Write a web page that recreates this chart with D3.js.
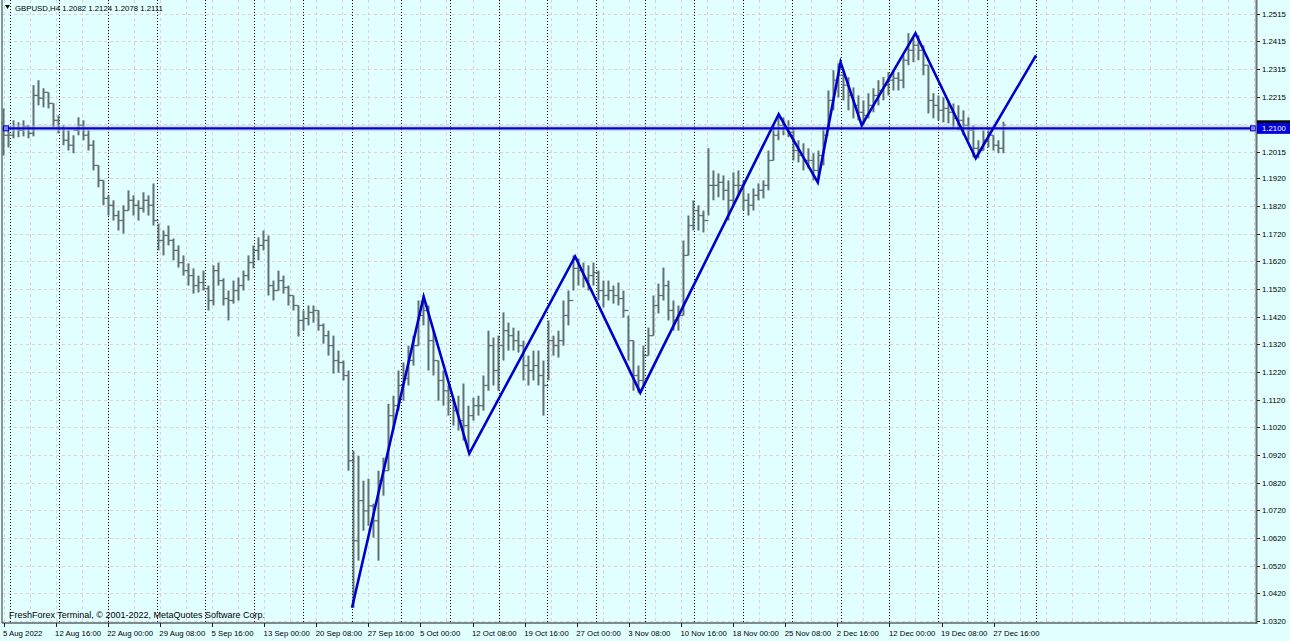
<!DOCTYPE html>
<html><head><meta charset="utf-8">
<script src="https://cdn.jsdelivr.net/npm/d3@7"></script>
<style>
html,body{margin:0;padding:0;background:#e1ffff;}
svg{display:block;}
text{font-family:"Liberation Sans",Arial,sans-serif;}
</style></head>
<body>
<script>
// ---- DATA ----
const symbolTitle = "GBPUSD,H4";
const lastBarOHLC = [1.2082, 1.2124, 1.2078, 1.2111];
const footerText = "FreshForex Terminal, © 2001-2022, MetaQuotes Software Corp.";
const firstOpen = 1.2120;
const highs = [1.2172,1.2104,1.2129,1.2122,1.2129,1.2111,1.2256,1.2274,1.2245,1.2230,1.2190,1.2147,1.2111,1.2093,1.2075,1.2140,1.2129,1.2093,1.2057,1.1966,
1.1912,1.1858,1.1840,1.1803,1.1822,1.1876,1.1858,1.1840,1.1869,1.1858,1.1901,1.1756,1.1731,1.1749,1.1702,1.1677,1.1641,1.1612,1.1594,1.1568,
1.1586,1.1532,1.1605,1.1615,1.1558,1.1514,1.1550,1.1561,1.1586,1.1641,1.1677,1.1706,1.1731,1.1713,1.1550,1.1586,1.1568,1.1532,1.1496,1.1460,
1.1442,1.1460,1.1460,1.1442,1.1395,1.1369,1.1351,1.1297,1.1261,1.1225,1.0935,1.0917,1.0827,1.0834,1.0744,1.0863,1.0910,1.1105,1.1134,1.1225,
1.1254,1.1315,1.1351,1.1478,1.1496,1.1460,1.1369,1.1261,1.1225,1.1171,1.1127,1.1134,1.1178,1.1098,1.1127,1.1134,1.1207,1.1369,1.1344,1.1351,
1.1435,1.1398,1.1380,1.1369,1.1333,1.1279,1.1297,1.1297,1.1261,1.1406,1.1351,1.1369,1.1478,1.1514,1.1641,1.1630,1.1615,1.1605,1.1615,1.1586,
1.1550,1.1550,1.1532,1.1543,1.1514,1.1424,1.1333,1.1243,1.1315,1.1380,1.1496,1.1539,1.1597,1.1550,1.1478,1.1460,1.1695,1.1785,1.1840,1.1822,
1.1803,1.2028,1.1948,1.1937,1.1930,1.1912,1.1941,1.1948,1.1912,1.1865,1.1883,1.1901,1.1912,1.2020,1.2111,1.2151,1.2140,1.2129,1.2100,1.2057,
1.2046,1.2028,1.2010,1.2020,1.2104,1.2237,1.2310,1.2335,1.2310,1.2285,1.2248,1.2219,1.2201,1.2227,1.2245,1.2274,1.2285,1.2303,1.2310,1.2303,
1.2364,1.2444,1.2426,1.2436,1.2400,1.2328,1.2227,1.2219,1.2212,1.2201,1.2190,1.2183,1.2165,1.2140,1.2111,1.2057,1.2093,1.2104,1.2075,1.2057,
1.2124];
const lows = [1.2002,1.2031,1.2064,1.2068,1.2071,1.2064,1.2071,1.2183,1.2176,1.2172,1.2104,1.2082,1.2039,1.2020,1.2010,1.2075,1.2057,1.2020,1.1948,1.1887,
1.1822,1.1785,1.1767,1.1731,1.1720,1.1803,1.1785,1.1767,1.1796,1.1785,1.1749,1.1659,1.1641,1.1677,1.1623,1.1597,1.1568,1.1532,1.1503,1.1507,
1.1514,1.1442,1.1460,1.1532,1.1460,1.1406,1.1467,1.1478,1.1514,1.1550,1.1594,1.1623,1.1659,1.1496,1.1478,1.1514,1.1503,1.1460,1.1442,1.1348,
1.1369,1.1388,1.1398,1.1369,1.1322,1.1279,1.1214,1.1217,1.1189,1.0863,1.0368,1.0538,1.0646,1.0664,1.0621,1.0538,1.0773,1.0863,1.1008,1.1080,
1.1116,1.1171,1.1243,1.1315,1.1388,1.1225,1.1207,1.1116,1.1098,1.1062,1.1026,1.1008,1.0972,1.0946,1.1044,1.1062,1.1080,1.1152,1.1171,1.1152,
1.1261,1.1297,1.1297,1.1290,1.1189,1.1171,1.1189,1.1171,1.1062,1.1189,1.1279,1.1272,1.1315,1.1388,1.1514,1.1532,1.1525,1.1514,1.1532,1.1478,
1.1453,1.1478,1.1467,1.1460,1.1416,1.1261,1.1152,1.1145,1.1171,1.1279,1.1351,1.1431,1.1478,1.1406,1.1369,1.1369,1.1424,1.1641,1.1731,1.1731,
1.1724,1.1785,1.1840,1.1851,1.1840,1.1767,1.1822,1.1858,1.1803,1.1785,1.1803,1.1840,1.1847,1.1876,1.1984,1.2057,1.2075,1.2068,1.1984,1.1977,
1.1948,1.1955,1.1912,1.1919,1.1966,1.2093,1.2165,1.2212,1.2201,1.2165,1.2136,1.2129,1.2111,1.2136,1.2158,1.2183,1.2201,1.2219,1.2237,1.2237,
1.2245,1.2328,1.2339,1.2346,1.2292,1.2154,1.2136,1.2129,1.2122,1.2118,1.2100,1.2093,1.2075,1.2057,1.1995,1.1992,1.2020,1.2031,1.2020,1.2010,
1.2010];
const closes = [1.2075,1.2075,1.2100,1.2093,1.2107,1.2082,1.2219,1.2209,1.2230,1.2190,1.2129,1.2100,1.2057,1.2039,1.2093,1.2111,1.2075,1.2039,1.1966,1.1912,
1.1847,1.1822,1.1785,1.1767,1.1803,1.1840,1.1822,1.1811,1.1840,1.1822,1.1767,1.1695,1.1713,1.1695,1.1659,1.1615,1.1586,1.1568,1.1532,1.1543,
1.1521,1.1478,1.1586,1.1550,1.1485,1.1478,1.1514,1.1532,1.1568,1.1615,1.1659,1.1677,1.1695,1.1532,1.1514,1.1550,1.1525,1.1496,1.1460,1.1406,
1.1413,1.1435,1.1442,1.1388,1.1351,1.1315,1.1261,1.1254,1.1207,1.0899,1.0610,1.0755,1.0718,1.0736,1.0682,1.0827,1.0863,1.1062,1.1098,1.1171,
1.1196,1.1261,1.1315,1.1424,1.1442,1.1333,1.1261,1.1189,1.1152,1.1116,1.1080,1.1044,1.1026,1.1062,1.1098,1.1098,1.1171,1.1315,1.1225,1.1315,
1.1369,1.1351,1.1333,1.1315,1.1243,1.1225,1.1243,1.1207,1.1171,1.1333,1.1315,1.1333,1.1424,1.1478,1.1594,1.1586,1.1558,1.1568,1.1579,1.1514,
1.1496,1.1514,1.1496,1.1485,1.1442,1.1333,1.1207,1.1189,1.1279,1.1351,1.1460,1.1496,1.1532,1.1442,1.1406,1.1424,1.1641,1.1749,1.1803,1.1785,
1.1767,1.1894,1.1894,1.1905,1.1876,1.1840,1.1894,1.1894,1.1840,1.1822,1.1858,1.1876,1.1894,1.1984,1.2075,1.2111,1.2100,1.2086,1.2020,1.2002,
1.1984,1.1984,1.1948,1.2002,1.2075,1.2201,1.2274,1.2292,1.2256,1.2219,1.2183,1.2158,1.2147,1.2183,1.2219,1.2237,1.2256,1.2274,1.2281,1.2274,
1.2346,1.2382,1.2400,1.2382,1.2328,1.2201,1.2183,1.2165,1.2172,1.2158,1.2136,1.2129,1.2111,1.2093,1.2028,1.2020,1.2057,1.2075,1.2039,1.2028,
1.2111];
// bar index (H4 bars from first tick) of the last data sample
const lastSampleBar = 614;
// zigzag vertices: H4 bar index and price
const zzBars   = [214, 258, 286, 351, 391, 476, 500, 514, 527, 560, 597, 634];
const zzPrices = [1.0368, 1.1492, 1.0925, 1.1637, 1.1145, 1.2151, 1.1905, 1.2339, 1.2111, 1.2444, 1.1992, 1.2364];
const hLinePrice = 1.2100;
const bidPrice = 1.2111;
// axis labels
const timeLabels = ["5 Aug 2022","12 Aug 16:00","22 Aug 00:00","29 Aug 08:00","5 Sep 16:00","13 Sep 00:00","20 Sep 08:00","27 Sep 16:00","5 Oct 00:00","12 Oct 08:00","19 Oct 16:00","27 Oct 00:00","3 Nov 08:00","10 Nov 16:00","18 Nov 00:00","25 Nov 08:00","2 Dec 16:00","12 Dec 00:00","19 Dec 08:00","27 Dec 16:00"];
const barsPerLabel = 32;
const barsPerWeek = 30;
const firstSeparatorBar = 4;
const separatorCount = 22;
const priceTicks = [1.2515,1.2415,1.2315,1.2215,1.2115,1.2015,1.1920,1.1820,1.1720,1.1620,1.1520,1.1420,1.1320,1.1220,1.1120,1.1020,1.0920,1.0820,1.0720,1.0620,1.0520,1.0420,1.0320];
// labels shown on the price scale (the 1.2115 label is hidden under the line label)
const priceTickLabels = ["1.2515","1.2415","1.2315","1.2215","","1.2015","1.1920","1.1820","1.1720","1.1620","1.1520","1.1420","1.1320","1.1220","1.1120","1.1020","1.0920","1.0820","1.0720","1.0620","1.0520","1.0420","1.0320"];

// ---- LAYOUT ----
const W = 1290, H = 641;
const plotL = 2, plotR = 1256, plotB = 623, plotT = 0;
const svg = d3.select("body").append("svg").attr("width", W).attr("height", H);
svg.append("rect").attr("width", W).attr("height", H).attr("fill", "#e1ffff");

const x = d3.scaleLinear().domain([0, 634]).range([3.5, 1036]);
const y = d3.scaleLinear().domain([1.0320, 1.2515]).range([621, 13.5]);
const maxBar = x.invert(plotR);

const g = svg.append("g");
// grid
const gridColor = "#ddd0d6";
g.selectAll("line.hg").data(priceTicks).join("line")
  .attr("x1", plotL).attr("x2", plotR)
  .attr("y1", d => Math.round(y(d)) + 0.5).attr("y2", d => Math.round(y(d)) + 0.5)
  .attr("stroke", gridColor).attr("stroke-dasharray", "3,3");
g.selectAll("line.vg").data(d3.range(0, maxBar, barsPerLabel / 2)).join("line")
  .attr("x1", d => Math.round(x(d)) + 0.5).attr("x2", d => Math.round(x(d)) + 0.5)
  .attr("y1", plotT).attr("y2", plotB)
  .attr("stroke", gridColor).attr("stroke-dasharray", "3,3");
// period separators
g.selectAll("line.sep").data(d3.range(separatorCount).map(k => firstSeparatorBar + k * barsPerWeek)).join("line")
  .attr("x1", d => Math.round(x(d)) + 0.5).attr("x2", d => Math.round(x(d)) + 0.5)
  .attr("y1", plotT).attr("y2", plotB)
  .attr("stroke", "#000").attr("stroke-width", 1).attr("stroke-dasharray", "1,2");

// OHLC bars
const n = highs.length;
const bars = d3.range(n).map(i => ({
  b: i * lastSampleBar / (n - 1),
  o: i === 0 ? firstOpen : closes[i - 1],
  h: highs[i], l: lows[i], c: closes[i]
}));
const barColor = "#627070";
const bg = g.append("g").attr("stroke", barColor).attr("stroke-width", 2);
bg.selectAll("line.hl").data(bars).join("line")
  .attr("x1", d => x(d.b)).attr("x2", d => x(d.b))
  .attr("y1", d => y(d.h)).attr("y2", d => y(d.l));
bg.selectAll("line.op").data(bars).join("line")
  .attr("x1", d => x(d.b) - 2.5).attr("x2", d => x(d.b))
  .attr("y1", d => y(d.o)).attr("y2", d => y(d.o)).attr("stroke-width", 1.3);
bg.selectAll("line.cl").data(bars).join("line")
  .attr("x1", d => x(d.b)).attr("x2", d => x(d.b) + 2.5)
  .attr("y1", d => y(d.c)).attr("y2", d => y(d.c)).attr("stroke-width", 1.3);

// horizontal line
const hy = y(hLinePrice);
g.append("line").attr("x1", plotL).attr("x2", plotR).attr("y1", hy).attr("y2", hy)
  .attr("stroke", "#b8b8ee").attr("stroke-width", 6).attr("opacity", 0.45);
g.append("line").attr("x1", plotL).attr("x2", plotR).attr("y1", hy).attr("y2", hy)
  .attr("stroke", "#0000cc").attr("stroke-width", 2.2);
[plotL + 4, plotR - 3].forEach(cx => {
  g.append("rect").attr("x", cx - 2.5).attr("y", hy - 2.5).attr("width", 5).attr("height", 5)
    .attr("fill", "#8080ff").attr("stroke", "#0000cc").attr("stroke-width", 1);
});

// zigzag
const zz = zzBars.map((b, i) => [x(b), y(zzPrices[i])]);
g.append("path").attr("d", d3.line()(zz)).attr("fill", "none")
  .attr("stroke", "#0000cd").attr("stroke-width", 2.6).attr("stroke-linejoin", "miter");

// frame
svg.append("line").attr("x1", plotL).attr("x2", plotL).attr("y1", 0).attr("y2", plotB).attr("stroke", "#6b7575").attr("stroke-width", 1.5);
svg.append("line").attr("x1", plotR + 0.5).attr("x2", plotR + 0.5).attr("y1", 0).attr("y2", plotB + 1).attr("stroke", "#6b7575").attr("stroke-width", 2);
svg.append("line").attr("x1", plotL).attr("x2", plotR + 1).attr("y1", plotB).attr("y2", plotB).attr("stroke", "#5a6464").attr("stroke-width", 1.5);

// right axis
const fs = "7.8px";
svg.selectAll("line.rt").data(priceTicks).join("line")
  .attr("x1", plotR + 1).attr("x2", plotR + 4)
  .attr("y1", d => Math.round(y(d)) + 0.5).attr("y2", d => Math.round(y(d)) + 0.5)
  .attr("stroke", "#222");
svg.selectAll("text.rl").data(priceTicks.filter((d, i) => priceTickLabels[i] !== "")).join("text")
  .attr("x", 1262).attr("y", d => y(d) + 3)
  .attr("font-size", fs).attr("fill", "#000")
  .text(d => priceTickLabels[priceTicks.indexOf(d)]);

// bid label (black, mostly covered) and line label (blue)
const by = y(bidPrice);
svg.append("rect").attr("x", plotR + 1).attr("y", by - 5).attr("width", 33).attr("height", 9).attr("fill", "#000");
svg.append("rect").attr("x", plotR + 1).attr("y", hy - 5.5).attr("width", 33).attr("height", 11).attr("fill", "#0000dd");
svg.append("text").attr("x", 1262).attr("y", hy + 3).attr("font-size", fs).attr("fill", "#fff").text(hLinePrice.toFixed(4));

// bottom axis
const tickBars = timeLabels.map((t, k) => k * barsPerLabel);
svg.selectAll("line.bt").data(tickBars).join("line")
  .attr("x1", d => Math.round(x(d)) + 0.5).attr("x2", d => Math.round(x(d)) + 0.5)
  .attr("y1", plotB).attr("y2", plotB + 4).attr("stroke", "#222");
svg.selectAll("text.bl").data(timeLabels).join("text")
  .attr("x", (d, k) => x(tickBars[k]) - 0.5).attr("y", 636)
  .attr("font-size", fs).attr("fill", "#000").text(d => d);

// header
svg.append("path").attr("d", "M5,5 L10,5 L7.5,9 Z").attr("fill", "#000");
svg.append("text").attr("x", 15).attr("y", 11).attr("font-size", fs).attr("fill", "#000")
  .text(symbolTitle + "  " + lastBarOHLC.map(v => v.toFixed(4)).join(" "));
// footer
svg.append("text").attr("x", 9).attr("y", 618).attr("font-size", "9px").attr("fill", "#000").text(footerText);
</script>
</body></html>
